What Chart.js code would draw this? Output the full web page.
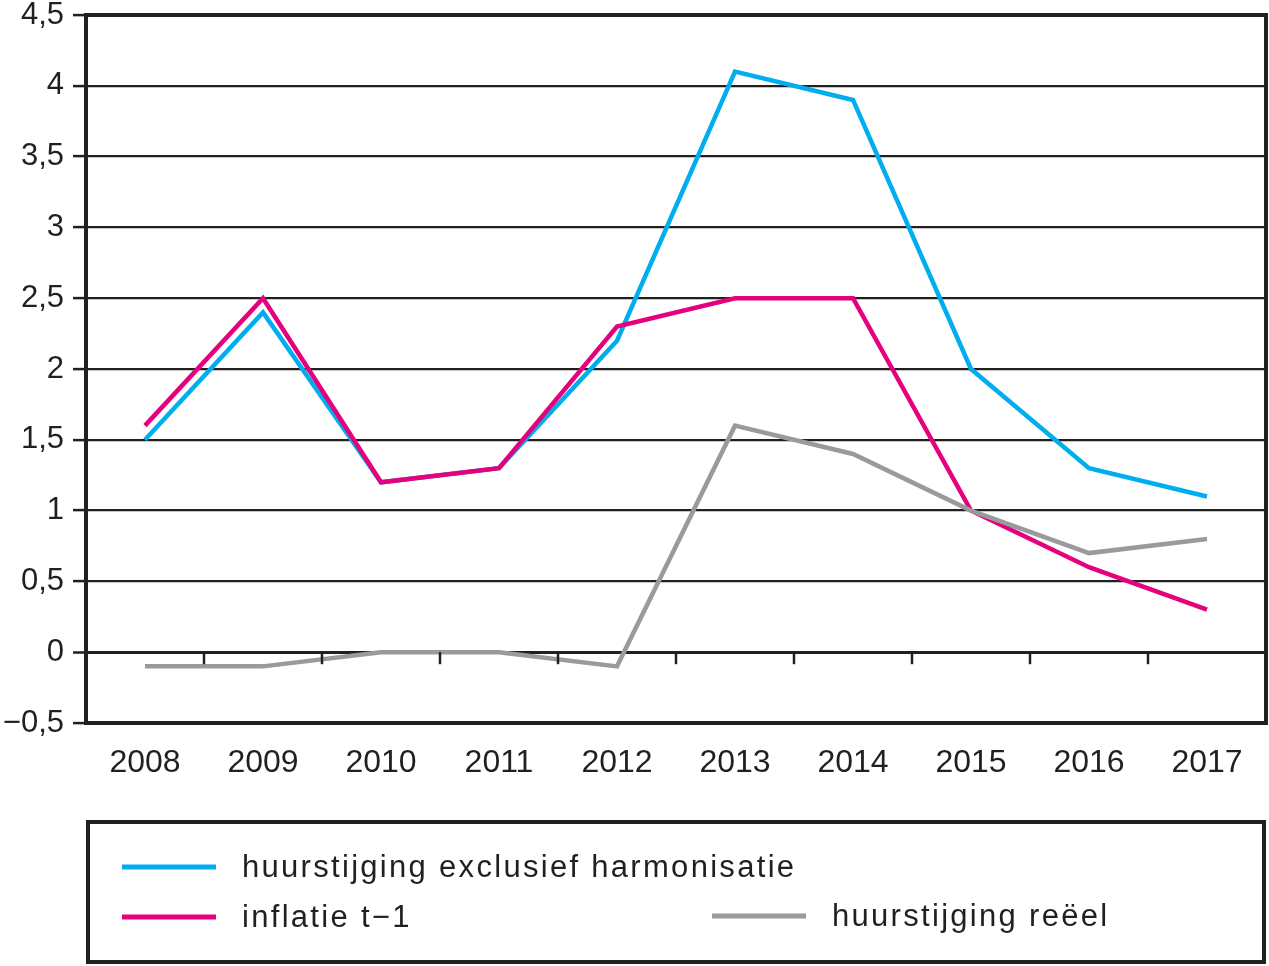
<!DOCTYPE html>
<html>
<head>
<meta charset="utf-8">
<script src="https://cdn.jsdelivr.net/npm/chart.js@4/dist/chart.umd.min.js"></script>
<style>
  html, body { margin: 0; padding: 0; background: #fff; }
  #wrap { width: 1269px; height: 966px; }
</style>
</head>
<body>
<div id="wrap"><canvas id="myChart" width="1269" height="966"></canvas></div>
<script>
// Data
const years = ['2008', '2009', '2010', '2011', '2012', '2013', '2014', '2015', '2016', '2017'];
const huurExclHarm = [1.5, 2.4, 1.2, 1.3, 2.2, 4.1, 3.9, 2.0, 1.3, 1.1];
const inflatie = [1.6, 2.5, 1.2, 1.3, 2.3, 2.5, 2.5, 1.0, 0.6, 0.3];
const huurReeel = [-0.1, -0.1, 0.0, 0.0, -0.1, 1.6, 1.4, 1.0, 0.7, 0.8];
const seriesLabels = ['huurstijging exclusief harmonisatie', 'inflatie t\u22121', 'huurstijging re\u00ebel'];
const yMin = -0.5, yMax = 4.5, yStep = 0.5;

const ink = '#231F20';
const fontFamily = '"Liberation Sans", Arial, sans-serif';

// frame around plot, tick marks on the zero line, and the boxed legend
const decorPlugin = {
    id: 'decor',
    afterDraw(chart) {
        const ctx = chart.ctx;
        const area = chart.chartArea;
        const x = chart.scales.x;
        const y = chart.scales.y;
        ctx.save();
        // zero line ticks between categories
        const y0 = y.getPixelForValue(0);
        ctx.strokeStyle = ink;
        ctx.lineWidth = 2.5;
        for (let i = 1; i < years.length; i++) {
            const bx = (x.getPixelForValue(i - 1) + x.getPixelForValue(i)) / 2;
            ctx.beginPath();
            ctx.moveTo(bx, y0);
            ctx.lineTo(bx, y0 + 12);
            ctx.stroke();
        }
        // plot frame
        ctx.lineWidth = 4;
        ctx.strokeRect(area.left, area.top, area.right - area.left, area.bottom - area.top);

        // legend box
        ctx.strokeRect(88, 822, 1176, 140);
        const items = [
            { c: chart.data.datasets[0].borderColor, t: chart.data.datasets[0].label, x: 122, y: 867 },
            { c: chart.data.datasets[1].borderColor, t: chart.data.datasets[1].label, x: 122, y: 917 },
            { c: chart.data.datasets[2].borderColor, t: chart.data.datasets[2].label, x: 712, y: 916 }
        ];
        ctx.font = '31px ' + fontFamily;
        ctx.letterSpacing = '2.3px';
        ctx.textBaseline = 'middle';
        ctx.fillStyle = ink;
        items.forEach(it => {
            ctx.strokeStyle = it.c;
            ctx.lineWidth = 5;
            ctx.beginPath();
            ctx.moveTo(it.x, it.y);
            ctx.lineTo(it.x + 94, it.y);
            ctx.stroke();
            ctx.fillText(it.t, it.x + 120, it.y + 1);
        });
        ctx.restore();
    }
};

const ctx = document.getElementById('myChart').getContext('2d');
const chart = new Chart(ctx, {
    type: 'line',
    data: {
        labels: years,
        datasets: [{
            label: seriesLabels[0],
            data: huurExclHarm,
            borderColor: '#00AEEF',
            borderWidth: 4.5,
            order: 3
        }, {
            label: seriesLabels[1],
            data: inflatie,
            borderColor: '#E5007D',
            borderWidth: 4.5,
            order: 2
        }, {
            label: seriesLabels[2],
            data: huurReeel,
            borderColor: '#9A9A9D',
            borderWidth: 4.5,
            order: 1
        }]
    },
    options: {
        responsive: false,
        animation: false,
        layout: { padding: { top: 15, right: 3, left: 0, bottom: 0 } },
        elements: {
            point: { radius: 0 },
            line: { tension: 0, borderCapStyle: 'butt', borderJoinStyle: 'miter' }
        },
        plugins: {
            legend: { display: false },
            tooltip: { enabled: false }
        },
        scales: {
            x: {
                offset: true,
                grid: { display: false, drawTicks: false },
                border: { display: false },
                ticks: {
                    color: ink,
                    font: { family: fontFamily, size: 32 },
                    padding: 21,
                    maxRotation: 0
                },
                afterFit(scale) {
                    scale.height = 243;
                    scale.paddingLeft = 0;
                    scale.paddingRight = 0;
                }
            },
            y: {
                min: yMin,
                max: yMax,
                grid: {
                    color: ink,
                    lineWidth: ctx => (ctx.tick && ctx.tick.value === 0 ? 3 : 2.2),
                    tickLength: 13,
                    tickColor: ink,
                    tickWidth: 2.5
                },
                border: { display: false },
                ticks: {
                    stepSize: yStep,
                    color: ink,
                    font: { family: fontFamily, size: 31 },
                    padding: 9,
                    callback: v => (v < 0 ? '\u2212' : '') + Math.abs(v).toString().replace('.', ',')
                },
                afterFit(scale) {
                    scale.width = 86;
                    scale.paddingTop = 0;
                    scale.paddingBottom = 0;
                }
            }
        }
    },
    plugins: [decorPlugin]
});
</script>
</body>
</html>
